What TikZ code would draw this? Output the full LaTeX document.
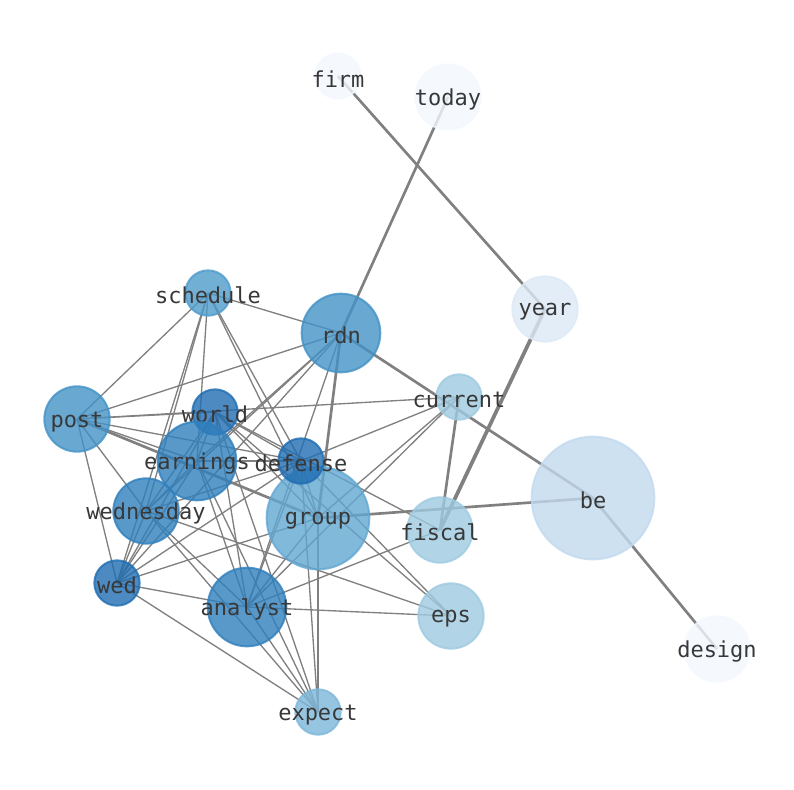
\documentclass[tikz,border=0pt]{standalone}
\usepackage{fontspec}
\setmonofont{DejaVu Sans Mono}
\usepackage{tikz}
\usetikzlibrary{backgrounds}

\definecolor{cdark}{HTML}{1F6DB2}
\definecolor{cnavy}{HTML}{2F7FBD}
\definecolor{cmid}{HTML}{4292C6}
\definecolor{csched}{HTML}{4F9BCB}
\definecolor{cgroup}{HTML}{61A7D2}
\definecolor{cexp}{HTML}{7CB7DA}
\definecolor{clight}{HTML}{9ECAE1}
\definecolor{cbe}{HTML}{C2D9EE}
\definecolor{cyear}{HTML}{DCE9F6}
\definecolor{cpale}{HTML}{F3F8FE}
\definecolor{txt}{HTML}{383838}
\definecolor{edgegray}{HTML}{808080}

\begin{document}
\begin{tikzpicture}[x=0.75pt, y=-0.75pt,
    lbl/.style={text=txt, text opacity=1, yshift=-2pt, font=\fontsize{16.5}{18}\selectfont\ttfamily},
    word/.style={circle, inner sep=0pt, line width=1.5pt, fill opacity=0.8, draw opacity=0.8, label={[lbl]center:#1}},
    fc/.style={fill=#1, draw=#1},
    tiny/.style={minimum size=34pt},
    small/.style={minimum size=49pt},
    mid/.style={minimum size=59pt},
    large/.style={minimum size=77pt},
    huge/.style={minimum size=92pt},
    edge/.style={draw=edgegray, line width=1pt},
    bold/.style={draw=edgegray, line width=2pt}]
  \useasboundingbox (0,0) rectangle (794,790);

  % nodes
  \node[word=firm, tiny, fc=cpale] (firm) at (338,76) {};
  \node[word=today, small, fc=cpale] (today) at (448,97) {};
  \node[word=year, small, fc=cyear] (year) at (545,309) {};
  \node[word=be, huge, fc=cbe] (be) at (593,498) {};
  \node[word=design, small, fc=cpale] (design) at (717,649) {};
  \node[word=current, tiny, fc=clight] (current) at (459,397) {};
  \node[word=fiscal, small, fc=clight] (fiscal) at (440,530) {};
  \node[word=eps, small, fc=clight] (eps) at (451,616) {};
  \node[word=expect, tiny, fc=cexp] (expect) at (318,712) {};
  \node[word=group, large, fc=cgroup] (group) at (318,518) {};
  \node[word=schedule, tiny, fc=csched] (schedule) at (208,293) {};
  \node[word=rdn, mid, fc=cmid] (rdn) at (341,333) {};
  \node[word=post, small, fc=cmid] (post) at (77,419) {};
  \node[word=analyst, mid, fc=cnavy] (analyst) at (247,607) {};
  \node[word=wednesday, small, fc=cnavy] (wednesday) at (146,511) {};
  \node[word=wed, tiny, fc=cdark] (wed) at (117,583) {};
  \node[word=world, tiny, fc=cdark] (world) at (215,412) {};
  \node[word=earnings, mid, fc=cnavy] (earnings) at (197,461) {};
  \node[word=defense, tiny, fc=cdark] (defense) at (301,461) {};

  % connections
  \begin{scope}[on background layer]
    \foreach \a/\b in {firm/year, today/rdn, rdn/be, be/design, group/be,
        current/fiscal, rdn/group, post/group}
      \draw[bold] (\a.center) -- (\b.center);
    \draw[bold, line width=2.8pt] (year.center) -- (fiscal.center);
    \foreach \a/\b in {schedule/rdn, schedule/post, schedule/earnings, schedule/wednesday,
        schedule/wed, schedule/defense, schedule/group,
        post/rdn, post/current, post/world, post/earnings, post/defense, post/wednesday, post/wed,
        rdn/earnings, rdn/wednesday, rdn/wed, rdn/analyst,
        world/earnings, world/defense, world/group, world/wednesday, world/wed,
        world/analyst, world/expect, world/fiscal, world/eps,
        earnings/defense, earnings/wednesday, earnings/wed, earnings/analyst, earnings/expect,
        defense/current, defense/group, defense/wednesday, defense/wed, defense/analyst,
        defense/expect, defense/eps,
        wednesday/wed, wednesday/analyst, wednesday/expect, wednesday/eps,
        group/current, group/analyst, group/wed, group/expect,
        analyst/wed, analyst/current, analyst/fiscal, analyst/eps, analyst/expect,
        wed/expect}
      \draw[edge] (\a.center) -- (\b.center);
  \end{scope}
\end{tikzpicture}
\end{document}
